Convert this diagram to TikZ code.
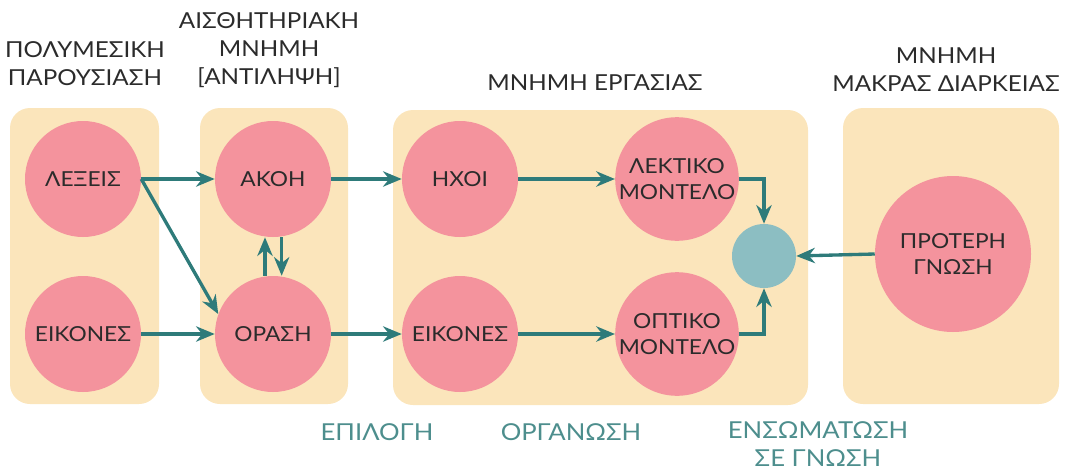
\documentclass[tikz,border=0pt]{standalone}
\usepackage{fontspec}
\setmainfont{Lato}[FakeStretch=1.1]
\usetikzlibrary{arrows.meta}
\definecolor{panelfill}{HTML}{FBE5BB}
\definecolor{stagepink}{HTML}{F4939D}
\definecolor{arrowteal}{HTML}{2E7B7A}
\definecolor{mergeteal}{HTML}{8CBEC2}
\definecolor{phaseteal}{HTML}{4D8E8D}
\definecolor{textdark}{HTML}{2B2B2B}
\begin{document}
\begin{tikzpicture}[x=0.75pt,y=-0.75pt]
                    \tikzset{panel/.style={fill=panelfill, rounded corners=15pt}}
                    \tikzset{stage/.style={circle, fill=stagepink, minimum size=87pt, inner sep=0pt, align=center, text=textdark, font=\fontsize{15.5}{20}\selectfont}}
                    \tikzset{merge/.style={circle, fill=mergeteal, minimum size=48pt, inner sep=0pt}}
                    \tikzset{flow/.style={draw=arrowteal, line width=2.5pt, -{Stealth[length=14pt, width=11.5pt]}}}
                    \tikzset{heading/.style={align=center, text=textdark, font=\fontsize{16.5}{21}\selectfont}}
                    \tikzset{phase/.style={align=center, text=phaseteal, font=\fontsize{17.5}{21}\selectfont}}
                    \useasboundingbox (0,0) rectangle (1067,471);
                    \fill[panel] (10,108) rectangle (159,404);
                    \fill[panel] (200,108) rectangle (348,404);
                    \fill[panel] (393,110) rectangle (808,405);
                    \fill[panel] (843,108) rectangle (1059,404);
                    \node[heading] (hdpresent) at (85,64) {ΠΟΛΥΜΕΣΙΚΗ\\ΠΑΡΟΥΣΙΑΣΗ};
                    \node[heading] (hdsensory) at (269,50) {ΑΙΣΘΗΤΗΡΙΑΚΗ\\ΜΝΗΜΗ\\{[ΑΝΤΙΛΗΨΗ]}};
                    \node[heading] (hdworking) at (595,83) {ΜΝΗΜΗ ΕΡΓΑΣΙΑΣ};
                    \node[heading] (hdlongterm) at (946,70) {ΜΝΗΜΗ\\ΜΑΚΡΑΣ ΔΙΑΡΚΕΙΑΣ};
                    \node[stage] (words) at (83,179) {ΛΕΞΕΙΣ};
                    \node[stage] (pictures) at (83,334) {ΕΙΚΟΝΕΣ};
                    \node[stage] (hearing) at (273,179) {ΑΚΟΗ};
                    \node[stage] (sight) at (273,334) {ΟΡΑΣΗ};
                    \node[stage] (sounds) at (460,179) {ΗΧΟΙ};
                    \node[stage] (images) at (460,334) {ΕΙΚΟΝΕΣ};
                    \node[stage] (verbal) at (677,179) {ΛΕΚΤΙΚΟ\\ΜΟΝΤΕΛΟ};
                    \node[stage] (visual) at (677,334) {ΟΠΤΙΚΟ\\ΜΟΝΤΕΛΟ};
                    \node[merge] (integrate) at (764,256) {};
                    \node[stage, minimum size=117pt] (prior) at (953,254) {ΠΡΟΤΕΡΗ\\ΓΝΩΣΗ};
                    \draw[flow] (words) -- (hearing);
                    \draw[flow] (words.east) -- (sight.160);
                    \draw[flow] (pictures) -- (sight);
                    \draw[flow] ([xshift=-6pt]sight.north) -- ([xshift=-6pt]hearing.south);
                    \draw[flow] ([xshift=6.5pt]hearing.south) -- ([xshift=6.5pt]sight.north);
                    \draw[flow] (hearing) -- (sounds);
                    \draw[flow] (sight) -- (images);
                    \draw[flow] (sounds) -- (verbal);
                    \draw[flow] (images) -- (visual);
                    \draw[flow] (verbal.east) -| (integrate.north);
                    \draw[flow] (visual.east) -| (integrate.south);
                    \draw[flow] (prior.west) -- (integrate.east);
                    \node[phase] (phselect) at (377,432) {ΕΠΙΛΟΓΗ};
                    \node[phase] (phorganise) at (571,432) {ΟΡΓΑΝΩΣΗ};
                    \node[phase] (phintegrate) at (818,444) {ΕΝΣΩΜΑΤΩΣΗ\\ΣΕ ΓΝΩΣΗ};
\end{tikzpicture}
\end{document}
